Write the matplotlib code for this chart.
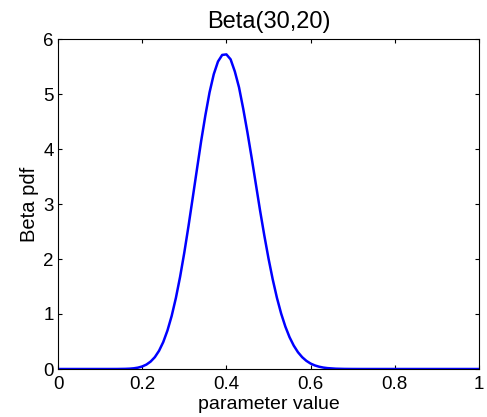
import matplotlib
matplotlib.use('Agg')
import matplotlib.pyplot as plt

plt.rcParams['font.family'] = ['Liberation Sans', 'DejaVu Sans']

# valores (paso 0.02 nas colas, 0.01 arredor do pico)
x_vals = [0.00, 0.02, 0.04, 0.06, 0.08, 0.10, 0.12, 0.14, 0.16, 0.17,
          0.18, 0.19, 0.20, 0.21, 0.22, 0.23, 0.24, 0.25, 0.26, 0.27,
          0.28, 0.29, 0.30, 0.31, 0.32, 0.33, 0.34, 0.35, 0.36, 0.37,
          0.38, 0.39, 0.40, 0.41, 0.42, 0.43, 0.44, 0.45, 0.46, 0.47,
          0.48, 0.49, 0.50, 0.51, 0.52, 0.53, 0.54, 0.55, 0.56, 0.57,
          0.58, 0.59, 0.60, 0.61, 0.62, 0.63, 0.64, 0.66, 0.68, 0.70,
          0.72, 0.74, 0.76, 0.80, 0.85, 0.90, 0.95, 1.00]
pdf_vals = [0.0, 0.0, 0.0, 0.0, 0.0, 0.0, 0.0, 0.0003, 0.0027, 0.006,
            0.0127, 0.0248, 0.046, 0.0805, 0.135, 0.215, 0.331, 0.490, 0.700, 0.965,
            1.291, 1.676, 2.116, 2.60, 3.113, 3.63, 4.143, 4.61, 5.03, 5.36,
            5.59, 5.71, 5.72, 5.63, 5.41, 5.12, 4.73, 4.30, 3.84, 3.36,
            2.88, 2.43, 2.01, 1.630, 1.295, 1.009, 0.772, 0.578, 0.425, 0.305,
            0.215, 0.148, 0.099, 0.0652, 0.042, 0.0262, 0.016, 0.0055, 0.0017, 0.0005,
            0.0001, 0.0, 0.0, 0.0, 0.0, 0.0, 0.0, 0.0]

x_ticks = [0, 0.2, 0.4, 0.6, 0.8, 1]
x_ticklabels = ['0', '0.2', '0.4', '0.6', '0.8', '1']
y_ticks = [0, 1, 2, 3, 4, 5, 6]

fig = plt.figure(figsize=(4.87, 4.17), dpi=100)
ax = fig.add_axes([58/487, 1 - 369/417, (479-58)/487, (369-39)/417])

ax.plot(x_vals, pdf_vals, color='#0000ff', linewidth=1.8)

ax.set_xlim(0, 1)
ax.set_ylim(0, 6)
ax.set_xticks(x_ticks)
ax.set_xticklabels(x_ticklabels)
ax.set_yticks(y_ticks)
ax.tick_params(direction='in', top=True, right=True, labelsize=13.5, length=3)
ax.tick_params(axis='x', pad=5)
ax.tick_params(axis='y', pad=3)

ax.set_title('Beta(30,20)', fontsize=17, pad=8)
ax.set_xlabel('parameter value', fontsize=14, labelpad=2)
ax.set_ylabel('Beta pdf', fontsize=14.5, labelpad=3)

fig.savefig('out.png', dpi=100)
